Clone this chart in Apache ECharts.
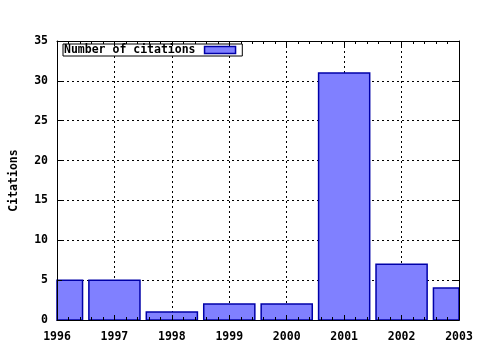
<!DOCTYPE html>
<html><head><meta charset="utf-8">
<script src="https://cdn.jsdelivr.net/npm/echarts@6/dist/echarts.min.js"></script>
<style>html,body{margin:0;padding:0;background:#fff}#c{width:480px;height:350px}</style>
</head><body><div id="c"></div>
<script>
const years = [1996, 1997, 1998, 1999, 2000, 2001, 2002, 2003];
const citations = [5, 5, 1, 2, 2, 31, 7, 4];
const seriesName = 'Number of citations';
const yTitle = 'Citations';

const font = 'DejaVu Sans Mono';
const txt = {fontFamily: font, fontWeight: 'bold', fontSize: 11.5, color: '#000'};
const grid = {type: [2, 3], color: '#000', width: 1};
const barFill = '#8080ff', barStroke = '#0000a8', barFrac = 0.89;
const axLine = {show: true, onZero: false, lineStyle: {color: '#000', width: 1}};
const tick = {show: true, inside: true, length: 5, lineStyle: {color: '#000'}};
const minor = {show: true, splitNumber: 5, length: 3, lineStyle: {color: '#000'}};
const xBase = {type: 'value', min: 1996, max: 2003, interval: 1};
const yBase = {type: 'value', min: 0, max: 35, interval: 5};

const chart = echarts.init(document.getElementById('c'));
chart.setOption({
  animation: false,
  grid: {left: 57, right: 21, top: 41, bottom: 30, containLabel: false},
  legend: {
    left: 63, top: 44, orient: 'horizontal', align: 'right',
    itemWidth: 31, itemHeight: 7, itemGap: 0,
    padding: [0, 6, 0, 1], borderColor: '#000', borderWidth: 1,
    backgroundColor: '#fff',
    textStyle: Object.assign({}, txt, {padding: [0, 4, 0, 0]}),
    data: [{name: seriesName, icon: 'rect',
      itemStyle: {color: barFill, borderColor: barStroke, borderWidth: 1.5}}]
  },
  xAxis: [
    Object.assign({}, xBase, {position: 'bottom', z: 5, axisLine: axLine, axisTick: tick, minorTick: minor,
      axisLabel: Object.assign({}, txt, {margin: 11, formatter: v => String(v)}), splitLine: {show: false}}),
    Object.assign({}, xBase, {position: 'top', z: 5, axisLine: axLine, axisTick: tick, minorTick: minor,
      axisLabel: {show: false}, splitLine: {show: false}}),
    Object.assign({}, xBase, {position: 'bottom', z: 0, axisLine: {show: false}, axisTick: {show: false},
      axisLabel: {show: false}, splitLine: {show: true, lineStyle: grid}})
  ],
  yAxis: [
    Object.assign({}, yBase, {position: 'left', z: 5,
      name: yTitle, nameLocation: 'middle', nameGap: 37, nameRotate: 90, nameTextStyle: txt,
      axisLine: axLine, axisTick: tick, axisLabel: Object.assign({}, txt, {margin: 9}), splitLine: {show: false}}),
    Object.assign({}, yBase, {position: 'right', z: 5, axisLine: axLine, axisTick: tick,
      axisLabel: {show: false}, splitLine: {show: false}}),
    Object.assign({}, yBase, {position: 'left', z: 0, axisLine: {show: false}, axisTick: {show: false},
      axisLabel: {show: false}, splitLine: {show: true, lineStyle: grid}})
  ],
  series: [{
    name: seriesName, type: 'custom', xAxisIndex: 0, yAxisIndex: 0, z: 2,
    itemStyle: {color: barFill, borderColor: barStroke, borderWidth: 1.5},
    encode: {x: 0, y: 1},
    renderItem: function (params, api) {
      const x = api.value(0), y = api.value(1);
      const p0 = api.coord([x, 0]);
      const p1 = api.coord([x, y]);
      const w = api.size([1, 0])[0] * barFrac;
      const cs = params.coordSys;
      const rect = echarts.graphic.clipRectByRect(
        {x: p0[0] - w / 2, y: p1[1], width: w, height: p0[1] - p1[1]},
        {x: cs.x, y: cs.y, width: cs.width, height: cs.height});
      return rect && {type: 'rect', shape: rect,
        style: {fill: barFill, stroke: barStroke, lineWidth: 1.5}};
    },
    data: years.map((y, i) => [y, citations[i]])
  }]
});
</script></body></html>
